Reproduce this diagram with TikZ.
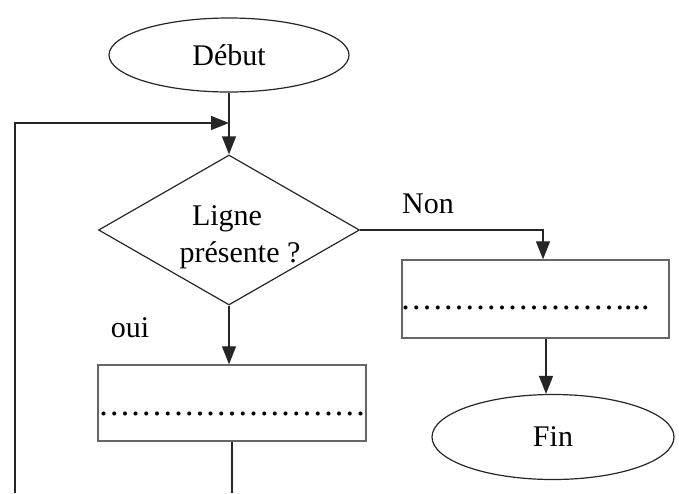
\documentclass[tikz,border=0pt]{standalone}
\usepackage{fontspec}
\setmainfont{Liberation Serif}
\newfontfamily\dotsfont[LetterSpace=6.5]{Liberation Serif}
\usetikzlibrary{shapes.geometric,arrows.meta}
\begin{document}
\begin{tikzpicture}[x=0.5pt,y=-0.5pt,
  every node/.style={font=\fontsize{15pt}{18pt}\selectfont},
  line/.style={line width=0.65pt,draw=black!85},
  arr/.style={line, -{Triangle[length=9pt,width=7pt]}},
  term/.style={ellipse,draw=black!85,line width=0.6pt,inner sep=0pt},
  procbox/.style={rectangle,draw=black!60,line width=0.7pt,inner sep=0pt},
  lbl/.style={anchor=base,inner sep=0pt},
  dotrow/.style={anchor=base west,inner sep=0pt,font=\fontsize{17pt}{18pt}\selectfont}]
\useasboundingbox (0,0) rectangle (679,493);
% nodes
\node[term,minimum width=120pt,minimum height=37pt] (debut) at (229,55) {Début};
\node[diamond,draw=black!85,line width=0.6pt,inner sep=0pt,minimum width=130.5pt,minimum height=75pt] (dia) at (229,230) {};
\node[lbl] (t1) at (227,225) {Ligne};
\node[lbl] (t2) at (240,262) {présente ?};
\node[procbox,minimum width=133.5pt,minimum height=39pt] (rbox) at (535.5,299) {};
\node[dotrow] (rdots) at (401,309) {{\dotsfont .....................}...};
\node[term,minimum width=121pt,minimum height=42.5pt] (fin) at (553,437) {Fin};
\node[procbox,minimum width=134pt,minimum height=38pt] (lbox) at (232,403) {};
\node[dotrow] (ldots) at (99,415) {{\dotsfont .........................}};
\node[lbl] (non) at (428,213) {Non};
\node[lbl] (oui) at (130,337) {oui};
% helper coordinates
\coordinate (loopstart) at (15,493);
\coordinate (loopend) at (229,123);
\coordinate (bottomend) at (234,493);
\path ([xshift=3.75pt]rbox.north) coordinate (rn);
\path ([xshift=5.25pt]rbox.south) coordinate (rs);
% connectors
\draw[arr] (debut.south) -- (dia.north);
\draw[arr] (loopstart) |- (loopend);
\draw[arr] (dia.east) -| (rn);
\draw[arr] (rs) -- (rs |- fin.north);
\draw[arr] (dia.south) -- (dia.south |- lbox.north);
\draw[line] (lbox.south) -- (lbox.south |- bottomend);
\end{tikzpicture}
\end{document}
